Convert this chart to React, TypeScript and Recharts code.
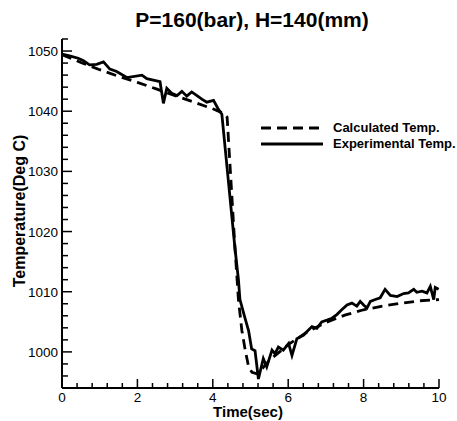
import React from 'react';
import { LineChart, Line, XAxis, YAxis, Legend } from 'recharts';

// calculated temperature (dashed)
const calcTime = [0, 0.5, 1, 1.5, 2, 2.5, 3, 3.5, 4, 4.3, 4.38, 4.59, 4.68, 4.77, 4.86, 4.95, 5.04, 5.2, 5.35, 5.5, 6, 6.5, 7, 7.5, 8, 8.5, 9, 9.5, 10];
const calcTemp = [1049.4, 1048.1, 1046.9, 1045.8, 1044.8, 1043.7, 1042.6, 1041.5, 1040.4, 1039.6, 1039.0, 1017.1, 1008.7, 1003.6, 1000.3, 997.5, 996.6, 996.3, 997.5, 998.6, 1001.2, 1003.3, 1004.9, 1006.1, 1007.0, 1007.6, 1008.1, 1008.5, 1008.7];

// experimental temperature (solid)
const expTime = [
  0, 0.2, 0.43, 0.57, 0.73, 0.92, 1.1, 1.27, 1.45, 1.72, 2.12, 2.25, 2.6, 2.69, 2.78, 2.91, 3.05, 3.18, 3.31, 3.44, 3.58, 3.71, 3.84, 4.02, 4.15, 4.24,
  4.59, 4.68, 4.72, 4.86, 4.95, 5.03, 5.12, 5.21,
  5.34, 5.43, 5.57, 5.65, 5.74, 5.87, 6.01, 6.1, 6.23, 6.41, 6.5, 6.63, 6.76, 6.89, 7.03, 7.16, 7.29, 7.42, 7.56, 7.69, 7.82, 7.91, 8.0, 8.09, 8.18, 8.31, 8.44, 8.57, 8.71, 8.89, 9.06, 9.19, 9.33, 9.41, 9.55, 9.68, 9.77, 9.86, 9.9, 9.99,
];
const expTemp = [
  1049.5, 1049.2, 1048.8, 1048.4, 1047.7, 1047.8, 1048.2, 1047.0, 1046.6, 1045.6, 1046.0, 1045.4, 1044.9, 1041.3, 1043.8, 1043.0, 1042.6, 1043.3, 1042.5, 1043.2, 1042.6, 1042.0, 1041.5, 1041.8, 1040.3, 1039.5,
  1017.1, 1012.0, 1008.7, 1005.5, 1003.5, 1000.5, 1000.2, 995.5,
  998.9, 997.5, 1000.3, 999.7, 1000.8, 1000.3, 1001.4, 999.4, 1002.2, 1002.8, 1003.4, 1004.2, 1003.9, 1005.0, 1005.3, 1005.6, 1006.2, 1007.0, 1007.8, 1008.1, 1007.6, 1008.4, 1007.8, 1007.3, 1008.4, 1008.7, 1009.0, 1010.4, 1009.4, 1009.2, 1009.7, 1009.8, 1010.4, 1009.9, 1010.1, 1009.8, 1010.9, 1008.7, 1010.7, 1010.4,
];

const xTicks = Array.from({ length: 26 }, (_, i) => Math.round(i * 0.4 * 10) / 10);
const yTicks = Array.from({ length: 29 }, (_, i) => 996 + i * 2);

const calcData = calcTime.map((t, i) => ({ t, temp: calcTemp[i] }));
const expData = expTime.map((t, i) => ({ t, temp: expTemp[i] }));

const font = '"Liberation Sans", Arial, sans-serif';

const XTick = (props: any) => {
  const { x, y, payload } = props;
  const v = payload.value;
  const major = Math.abs(v / 2 - Math.round(v / 2)) < 1e-6;
  return (
    <g>
      <line x1={x} y1={y} x2={x} y2={y - (major ? 9 : 5)} stroke="#000" strokeWidth={1.5} />
      {major && (
        <text x={x} y={y + 14} textAnchor="middle" fontSize={13.5} fill="#000" fontFamily={font}>
          {v}
        </text>
      )}
    </g>
  );
};

const YTick = (props: any) => {
  const { x, y, payload } = props;
  const v = payload.value;
  const major = v % 10 === 0;
  return (
    <g>
      <line x1={x} y1={y} x2={x + (major ? 10 : 6)} y2={y} stroke="#000" strokeWidth={1.5} />
      {major && (
        <text x={x - 4} y={y + 5} textAnchor="end" fontSize={13.5} fill="#000" fontFamily={font}>
          {v}
        </text>
      )}
    </g>
  );
};

const LegendBox = (props: any) => {
  const items = props.payload || [];
  return (
    <div style={{ fontFamily: font, fontWeight: 'bold', fontSize: 13, lineHeight: '16px' }}>
      {items.map((e: any) => (
        <div key={e.value} style={{ display: 'flex', alignItems: 'center', height: 16 }}>
          <svg width={62} height={16} style={{ marginRight: 10 }}>
            <line
              x1={0}
              y1={8}
              x2={62}
              y2={8}
              stroke="#000"
              strokeWidth={3}
              strokeDasharray={e.payload?.strokeDasharray}
            />
          </svg>
          <span style={{ whiteSpace: 'nowrap' }}>{e.value}</span>
        </div>
      ))}
    </div>
  );
};

export default function App() {
  return (
    <div style={{ position: 'absolute', left: 0, top: 0, width: 457, height: 421, background: '#fff', fontFamily: font }}>
      <div
        style={{
          position: 'absolute',
          left: 252,
          top: 9,
          transform: 'translateX(-50%)',
          fontSize: 21,
          fontWeight: 'bold',
          lineHeight: '21px',
          whiteSpace: 'nowrap',
        }}
      >
        P=160(bar), H=140(mm)
      </div>
      <LineChart width={457} height={421} data={calcData} margin={{ top: 39, right: 18, bottom: 0, left: 12 }}>
        <XAxis
          dataKey="t"
          type="number"
          domain={[0, 10]}
          ticks={xTicks}
          interval={0}
          height={33}
          tickSize={0}
          tickMargin={0}
          tickLine={false}
          axisLine={{ stroke: '#000', strokeWidth: 2 }}
          tick={<XTick />}
        />
        <YAxis
          type="number"
          domain={[994, 1052]}
          ticks={yTicks}
          interval={0}
          width={50}
          tickSize={0}
          tickMargin={0}
          tickLine={false}
          allowDataOverflow
          axisLine={{ stroke: '#000', strokeWidth: 2 }}
          tick={<YTick />}
        />
        <Legend
          layout="vertical"
          align="center"
          verticalAlign="middle"
          content={<LegendBox />}
          wrapperStyle={{ left: 261, top: 120, width: 200, right: 'auto', bottom: 'auto' }}
        />
        <Line
          data={calcData}
          dataKey="temp"
          name="Calculated Temp."
          type="linear"
          stroke="#000"
          strokeWidth={2.8}
          strokeDasharray="10 6"
          dot={false}
          isAnimationActive={false}
        />
        <Line
          data={expData}
          dataKey="temp"
          name="Experimental Temp."
          type="linear"
          stroke="#000"
          strokeWidth={2.8}
          dot={false}
          isAnimationActive={false}
        />
      </LineChart>
      <div
        style={{
          position: 'absolute',
          left: 248,
          top: 404,
          transform: 'translateX(-50%)',
          fontSize: 15,
          fontWeight: 'bold',
          lineHeight: '15px',
          whiteSpace: 'nowrap',
        }}
      >
        Time(sec)
      </div>
      <div
        style={{
          position: 'absolute',
          left: 19.5,
          top: 210.7,
          transform: 'translate(-50%, -50%) rotate(-90deg)',
          fontSize: 16,
          fontWeight: 'bold',
          lineHeight: '16px',
          whiteSpace: 'nowrap',
        }}
      >
        Temperature(Deg C)
      </div>
    </div>
  );
}
